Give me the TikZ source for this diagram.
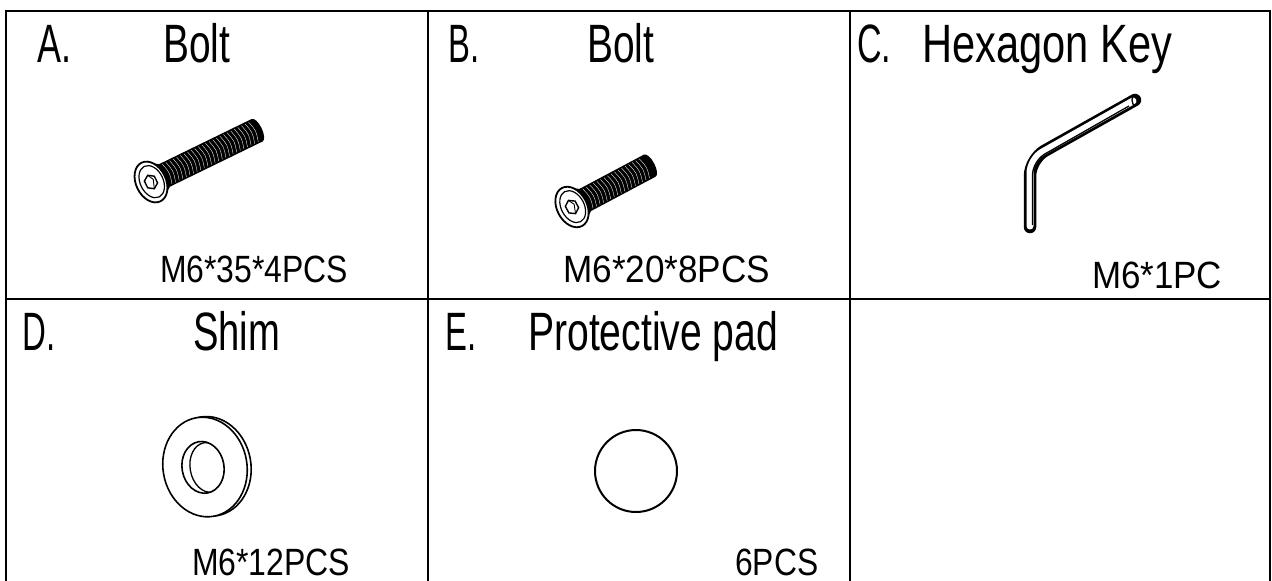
\documentclass[tikz,border=0pt]{standalone}
\usepackage{fontspec}
\setmainfont{Liberation Sans}
\usepackage{graphicx}
\newcommand{\hd}[2]{\fontsize{54}{54}\selectfont\resizebox{#1}{\height}{#2}}
\newcommand{\lb}[2]{\fontsize{38}{38}\selectfont\resizebox{#1}{\height}{#2}}
\newcommand{\drawbolt}[4]{%
  \begin{scope}[shift={(#1,#2)}, rotate=#3]
    \pgfmathsetmacro\tend{#4-3}
    \fill (3,-21) -- (15,-12.5) -- (#4,-12.5) -- (#4,12.5) -- (15,12.5) -- (3,21) -- cycle;
    \fill (#4,0) ellipse [x radius=5, y radius=12.5];
    \foreach \t in {18,22,...,\tend} {
      \draw[white, line width=0.35] (\t,-11) .. controls (\t+3,0) .. (\t,11);
    }
    \draw[fill=white, line width=1.8] (0,0) ellipse [x radius=15, y radius=21.5];
    \draw[line width=1.2] (0.8,0) ellipse [x radius=11.5, y radius=17];
    \begin{scope}[xscale=0.85]
      \draw[line width=1.4] (30:7.5) -- (90:7.5) -- (150:7.5) -- (210:7.5) -- (270:7.5) -- (330:7.5) -- cycle;
      \draw[line width=0.9] (90:7.5) -- (-20:4) -- (270:7.5);
    \end{scope}
  \end{scope}}
\begin{document}
\begin{tikzpicture}[x=1pt, y=-1pt,
  txt/.style={anchor=base west, inner sep=0pt},
  frame/.style={line width=2pt, line cap=rect}]
\useasboundingbox (0,0) rectangle (1272,581);
% table frame
\draw[frame] (6,585) -- (6,11) -- (1270,11) -- (1270,585);
\draw[frame] (6,299) -- (1270,299);
\draw[frame] (428,11) -- (428,585);
\draw[frame] (850,11) -- (850,585);
% headers
\node[txt] (hA) at (37,62) {\hd{34pt}{A.}};
\node[txt] (hAt) at (163,62) {\hd{67pt}{Bolt}};
\node[txt] (hB) at (448,62) {\hd{31pt}{B.}};
\node[txt] (hBt) at (587,62) {\hd{67pt}{Bolt}};
\node[txt] (hC) at (857,62) {\hd{34pt}{C.}};
\node[txt] (hCt) at (922,62) {\hd{250pt}{Hexagon Key}};
\node[txt] (hD) at (22,350) {\hd{33pt}{D.}};
\node[txt] (hDt) at (193,350) {\hd{87pt}{Shim}};
\node[txt] (hE) at (445,350) {\hd{31pt}{E.}};
\node[txt] (hEt) at (528,350) {\hd{250pt}{Protective pad}};
% labels
\node[txt] (lA) at (160,282) {\lb{188pt}{M6*35*4PCS}};
\node[txt] (lB) at (563,282) {\lb{207pt}{M6*20*8PCS}};
\node[txt] (lC) at (1092,288) {\lb{130pt}{M6*1PC}};
\node[txt] (lD) at (192,575) {\lb{158pt}{M6*12PCS}};
\node[txt] (lE) at (735,575) {\lb{83pt}{6PCS}};
% bolts
\drawbolt{151}{182}{26}{118}
\drawbolt{572}{207}{28}{88}
% hexagon key
\draw[line width=12.5, line cap=round, rounded corners=17] (1135,100) -- (1030,159) -- (1030,227);
\draw[white, line width=7, line cap=round, rounded corners=14] (1133,101) -- (1030,159) -- (1030,226);
\draw[line width=1.3, rounded corners=14] (1129,106) -- (1032.5,161) -- (1032.5,225);
\draw[line width=1.3] (1135,100) ellipse [x radius=3, y radius=5.5];
% shim
\begin{scope}[shift={(205,467)}, rotate=10]
  \draw[line width=1.6] (4,0) ellipse [x radius=42, y radius=50];
  \draw[line width=1.6, fill=white] (0,0) ellipse [x radius=42, y radius=50];
  \draw[line width=1.6] (-2,0) ellipse [x radius=21, y radius=26];
  \begin{scope}
    \clip (-2,0) ellipse [x radius=21, y radius=26];
    \draw[line width=1.3] (3,1) ellipse [x radius=18, y radius=25];
  \end{scope}
\end{scope}
% protective pad
\node[circle, draw, line width=2pt, minimum size=82pt, inner sep=0pt] (pad) at (636,471) {};
\end{tikzpicture}
\end{document}
